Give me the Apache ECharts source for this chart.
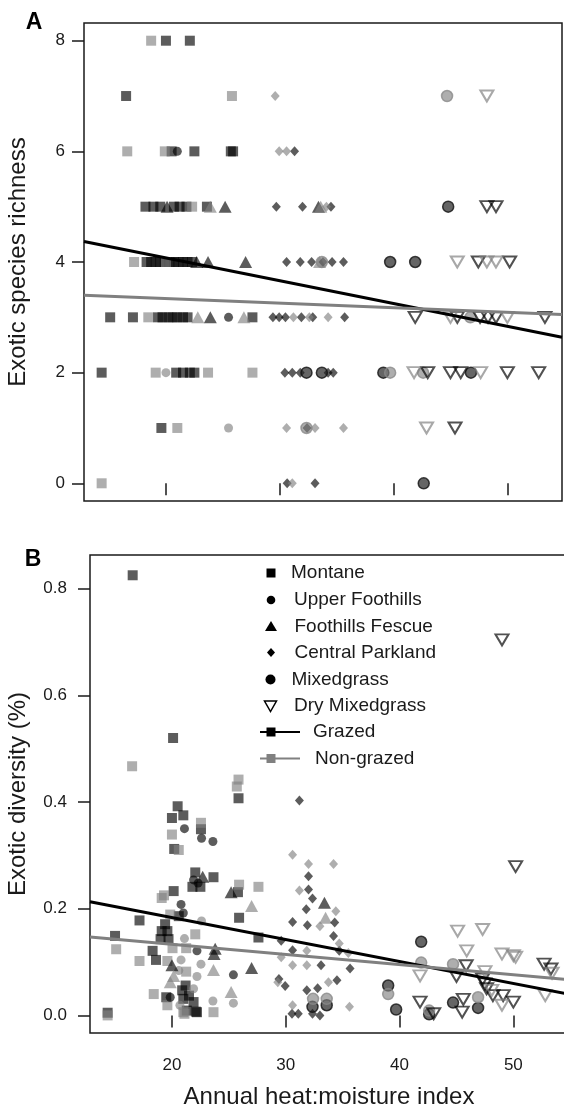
<!DOCTYPE html>
<html><head><meta charset="utf-8">
<script src="https://cdn.jsdelivr.net/npm/echarts@6/dist/echarts.min.js"></script>
<style>html,body{margin:0;padding:0;background:#fff}#c{width:564px;height:1110px}</style>
</head><body><div id="c"></div>
<script>
// ---------- DATA ----------
const xTicks = [20, 30, 40, 50];
const yTicksA = [0, 2, 4, 6, 8];
const yTicksB = [0, 0.2, 0.4, 0.6, 0.8];
const legendNames = ['Montane', 'Upper Foothills', 'Foothills Fescue', 'Central Parkland', 'Mixedgrass', 'Dry Mixedgrass', 'Grazed', 'Non-grazed'];

// Panel A: exotic species richness  [heat:moisture index, richness]
const richMontaneG = [[20.0,8],[22.1,8],[16.5,7],[20.5,6],[22.5,6],[25.7,6],[25.9,6],[18.2,5],[18.9,5],[19.5,5],[20.7,5],[21.2,5],[21.8,5],[23.6,5],[18.3,4],[18.7,4],[19.1,4],[19.5,4],[19.9,4],[20.3,4],[20.7,4],[21.1,4],[21.5,4],[21.9,4],[22.3,4],[15.1,3],[17.1,3],[19.3,3],[19.7,3],[20.2,3],[20.6,3],[21.0,3],[21.5,3],[21.9,3],[27.6,3],[14.35,2],[20.9,2],[21.5,2],[22.1,2],[22.5,2],[19.6,1]];
const richMontaneN = [[18.7,8],[25.8,7],[16.6,6],[19.9,6],[22.3,5],[17.2,4],[20.0,4],[18.45,3],[19.1,2],[23.7,2],[27.6,2],[21.0,1],[14.35,0]];
const richUpperG = [[21.0,6],[25.5,3]];
const richUpperN = [[20.0,2],[25.5,1]];
const richFescueG = [[20.1,5],[25.2,5],[33.4,5],[22.7,4],[23.7,4],[27.0,4],[23.9,3]];
const richFescueN = [[23.9,5],[33.6,5],[33.5,4],[22.8,3],[26.85,3]];
const richParkG = [[31.3,6],[29.7,5],[32.0,5],[34.5,5],[30.6,4],[31.8,4],[32.8,4],[33.8,4],[34.6,4],[35.6,4],[29.4,3],[29.95,3],[30.5,3],[31.9,3],[32.9,3],[35.7,3],[30.45,2],[31.1,2],[31.8,2],[34.25,2],[34.7,2],[32.4,1],[30.65,0],[33.1,0]];
const richParkN = [[29.6,7],[29.95,6],[30.6,6],[34.1,5],[31.2,3],[32.6,3],[34.25,3],[30.6,1],[33.1,1],[35.6,1],[31.1,0]];
const richMixedG = [[44.8,5],[39.7,4],[41.9,4],[32.35,2],[33.7,2],[39.1,2],[46.8,2],[42.65,0]];
const richMixedN = [[44.7,7],[33.7,4],[46.75,3],[39.7,2],[42.6,2],[32.35,1]];
const richDryG = [[48.2,5],[49.0,5],[47.45,4],[50.2,4],[41.9,3],[45.6,3],[47.6,3],[48.3,3],[49.0,3],[53.3,3],[43.0,2],[45.0,2],[45.9,2],[50.0,2],[52.75,2],[45.4,1]];
const richDryN = [[48.2,7],[45.6,4],[48.2,4],[49.0,4],[45.0,3],[50.0,3],[41.8,2],[47.65,2],[42.9,1]];
const richLineG = [[12.8,4.37],[54.8,2.64]];
const richLineN = [[12.8,3.40],[54.8,3.05]];

// Panel B: exotic diversity  [heat:moisture index, diversity]
const divMontaneG = [[16.55,0.825],[20.1,0.52],[25.85,0.407],[20.5,0.392],[21.0,0.375],[20.0,0.370],[22.55,0.349],[20.2,0.312],[22.05,0.268],[23.65,0.259],[21.8,0.241],[22.5,0.241],[25.8,0.231],[25.9,0.183],[27.6,0.146],[20.15,0.233],[20.6,0.186],[17.15,0.178],[15.0,0.149],[19.4,0.171],[19.1,0.158],[19.6,0.158],[19.0,0.143],[19.7,0.143],[18.3,0.121],[18.6,0.104],[19.5,0.034],[21.2,0.056],[20.9,0.047],[21.5,0.037],[21.0,0.031],[21.9,0.025],[21.3,0.009],[22.2,0.006],[14.35,0.005],[22.1,0.007]];
const divMontaneN = [[16.5,0.467],[25.85,0.442],[25.7,0.429],[22.55,0.361],[20.0,0.339],[20.6,0.310],[25.9,0.245],[27.6,0.241],[19.3,0.225],[19.1,0.220],[19.85,0.189],[15.1,0.124],[22.05,0.152],[20.05,0.126],[21.25,0.126],[17.15,0.102],[19.6,0.102],[21.25,0.082],[18.4,0.040],[19.6,0.019],[21.0,0.006],[23.65,0.006],[14.35,0.0],[21.1,0.003]];
const divUpperG = [[21.1,0.350],[22.6,0.332],[23.6,0.326],[21.9,0.254],[22.3,0.248],[20.8,0.208],[21.0,0.192],[22.2,0.121],[19.85,0.034],[25.4,0.076]];
const divUpperN = [[22.6,0.177],[21.1,0.144],[22.55,0.096],[20.8,0.104],[22.2,0.073],[20.6,0.084],[25.4,0.023],[20.7,0.019],[21.9,0.050],[23.6,0.027]];
const divFescueG = [[22.7,0.260],[25.2,0.231],[23.8,0.125],[23.7,0.115],[20.0,0.094],[27.0,0.089],[33.4,0.211]];
const divFescueN = [[27.0,0.205],[23.65,0.085],[25.2,0.044],[20.15,0.074],[19.85,0.062],[33.5,0.183]];
const divParkG = [[31.2,0.403],[32.0,0.261],[32.0,0.236],[32.35,0.219],[31.8,0.199],[30.6,0.175],[31.9,0.169],[34.3,0.174],[34.2,0.149],[34.7,0.121],[35.65,0.088],[33.1,0.094],[29.6,0.140],[30.6,0.122],[29.4,0.068],[29.95,0.055],[31.85,0.047],[32.8,0.051],[34.5,0.066],[30.55,0.003],[31.1,0.003],[32.35,0.003],[33.0,0.0]];
const divParkN = [[30.6,0.301],[32.0,0.284],[34.2,0.284],[31.2,0.234],[33.0,0.167],[34.4,0.195],[34.7,0.135],[35.5,0.117],[29.6,0.109],[30.6,0.094],[31.85,0.094],[31.85,0.121],[33.75,0.062],[30.6,0.019],[35.6,0.016],[29.3,0.062]];
const divMixedG = [[32.35,0.016],[33.6,0.019],[41.9,0.138],[39.0,0.056],[39.7,0.011],[42.6,0.002],[44.7,0.024],[46.9,0.014]];
const divMixedN = [[32.4,0.031],[33.6,0.031],[41.9,0.099],[44.7,0.096],[39.0,0.040],[42.6,0.009],[46.9,0.034]];
const divDryG = [[49.0,0.704],[50.2,0.279],[45.85,0.093],[45.0,0.073],[47.3,0.068],[47.5,0.059],[47.65,0.050],[48.2,0.037],[49.1,0.037],[50.0,0.025],[52.7,0.096],[53.3,0.087],[41.8,0.025],[43.0,0.003],[45.6,0.030],[45.5,0.006]];
const divDryN = [[45.1,0.158],[47.3,0.161],[45.9,0.121],[49.0,0.115],[50.0,0.112],[50.2,0.109],[41.8,0.074],[47.5,0.082],[48.1,0.047],[49.0,0.019],[53.4,0.079],[52.8,0.037]];
const divLineG = [[12.8,0.213],[54.8,0.040]];
const divLineN = [[12.8,0.147],[54.8,0.067]];

// ---------- STYLE ----------
const FONT = "'Liberation Sans', Arial, Helvetica, sans-serif";
const INK = '#1a1a1a';
const DARK = 'rgba(0,0,0,0.8)';
const GRAY = 'rgba(128,128,128,0.8)';
const SYM = {
  montane: {symbol: 'rect', size: 10},
  upper: {symbol: 'circle', size: 9},
  fescue: {symbol: 'triangle', size: [13, 12]},
  park: {symbol: 'diamond', size: [9, 10]},
  mixed: {symbol: 'circle', size: 11, border: true},
  dry: {symbol: 'triangle', size: [13, 11], rotate: 180, open: true}
};

function scatter(name, data, idx, st, grazed) {
  const s = {type: 'scatter', name: name, xAxisIndex: idx, yAxisIndex: idx, data: data,
    symbol: st.symbol, symbolSize: st.size, symbolRotate: st.rotate || 0, silent: true, z: 2,
    emphasis: {disabled: true}};
  if (st.open) s.itemStyle = {color: 'rgba(0,0,0,0)', borderColor: grazed ? 'rgba(0,0,0,0.85)' : 'rgba(128,128,128,0.85)', borderWidth: 2};
  else if (st.border) s.itemStyle = {color: grazed ? 'rgba(30,30,30,0.85)' : GRAY, borderColor: grazed ? '#111' : '#8a8a8a', borderWidth: 1.5};
  else s.itemStyle = {color: grazed ? DARK : GRAY};
  return s;
}
function regLine(name, data, idx, color) {
  return {type: 'line', name: name, xAxisIndex: idx, yAxisIndex: idx, data: data, showSymbol: false,
    symbol: 'none', silent: true, z: 5, lineStyle: {color: color, width: 3}, clip: true};
}

function xAx(idx, showLabels, name) {
  return {type: 'value', gridIndex: idx, min: 12.8, max: 54.8, splitLine: {show: false},
    axisLine: {show: false},
    axisTick: {show: true, length: 12, lineStyle: {color: INK, width: 1.5}, customValues: xTicks},
    axisLabel: {show: showLabels, customValues: xTicks, fontSize: 17, color: INK, fontFamily: FONT, margin: 24},
    name: name, nameLocation: 'middle', nameGap: 52,
    nameTextStyle: {fontSize: 24, color: INK, fontFamily: FONT}};
}
function yAx(idx, min, max, ticks, fmt, margin, name, gap) {
  return {type: 'value', gridIndex: idx, min: min, max: max, splitLine: {show: false},
    axisLine: {show: false},
    axisTick: {show: true, length: 12, lineStyle: {color: INK, width: 1.5}, customValues: ticks},
    axisLabel: {customValues: ticks, formatter: fmt, fontSize: 17, color: INK, fontFamily: FONT, margin: margin},
    name: name, nameLocation: 'middle', nameGap: gap,
    nameTextStyle: {fontSize: 24, color: INK, fontFamily: FONT}};
}

const series = [
  scatter('Montane grazed A', richMontaneG, 0, SYM.montane, true),
  scatter('Montane non-grazed A', richMontaneN, 0, SYM.montane, false),
  scatter('Upper Foothills grazed A', richUpperG, 0, SYM.upper, true),
  scatter('Upper Foothills non-grazed A', richUpperN, 0, SYM.upper, false),
  scatter('Foothills Fescue grazed A', richFescueG, 0, SYM.fescue, true),
  scatter('Foothills Fescue non-grazed A', richFescueN, 0, SYM.fescue, false),
  scatter('Central Parkland grazed A', richParkG, 0, SYM.park, true),
  scatter('Central Parkland non-grazed A', richParkN, 0, SYM.park, false),
  scatter('Mixedgrass grazed A', richMixedG, 0, SYM.mixed, true),
  scatter('Mixedgrass non-grazed A', richMixedN, 0, SYM.mixed, false),
  scatter('Dry Mixedgrass grazed A', richDryG, 0, SYM.dry, true),
  scatter('Dry Mixedgrass non-grazed A', richDryN, 0, SYM.dry, false),
  regLine('Grazed A', richLineG, 0, '#000'),
  regLine('Non-grazed A', richLineN, 0, '#808080'),
  scatter('Montane grazed B', divMontaneG, 1, SYM.montane, true),
  scatter('Montane non-grazed B', divMontaneN, 1, SYM.montane, false),
  scatter('Upper Foothills grazed B', divUpperG, 1, SYM.upper, true),
  scatter('Upper Foothills non-grazed B', divUpperN, 1, SYM.upper, false),
  scatter('Foothills Fescue grazed B', divFescueG, 1, SYM.fescue, true),
  scatter('Foothills Fescue non-grazed B', divFescueN, 1, SYM.fescue, false),
  scatter('Central Parkland grazed B', divParkG, 1, SYM.park, true),
  scatter('Central Parkland non-grazed B', divParkN, 1, SYM.park, false),
  scatter('Mixedgrass grazed B', divMixedG, 1, SYM.mixed, true),
  scatter('Mixedgrass non-grazed B', divMixedN, 1, SYM.mixed, false),
  scatter('Dry Mixedgrass grazed B', divDryG, 1, SYM.dry, true),
  scatter('Dry Mixedgrass non-grazed B', divDryN, 1, SYM.dry, false),
  regLine('Grazed B', divLineG, 1, '#000'),
  regLine('Non-grazed B', divLineN, 1, '#808080')
];

// ---------- LEGEND (panel B, drawn as graphics) ----------
const LX = 271;
const rowsY = [573, 600, 626.5, 652.5, 679.5, 706, 732, 758.5];
const textX = [291, 294, 294.5, 294.5, 291.5, 294, 313, 315];
const legend = [];
legend.push({type: 'rect', shape: {x: LX - 4.5, y: rowsY[0] - 4.5, width: 9, height: 9}, style: {fill: '#000'}});
legend.push({type: 'circle', shape: {cx: LX, cy: rowsY[1], r: 4.3}, style: {fill: '#000'}});
legend.push({type: 'polygon', shape: {points: [[LX - 6, rowsY[2] + 4.5], [LX + 6, rowsY[2] + 4.5], [LX, rowsY[2] - 5.5]]}, style: {fill: '#000'}});
legend.push({type: 'polygon', shape: {points: [[LX, rowsY[3] - 4.5], [LX + 4, rowsY[3]], [LX, rowsY[3] + 4.5], [LX - 4, rowsY[3]]]}, style: {fill: '#000'}});
legend.push({type: 'circle', shape: {cx: LX - 0.5, cy: rowsY[4], r: 5}, style: {fill: '#000'}});
legend.push({type: 'polygon', shape: {points: [[LX - 6.5, rowsY[5] - 5], [LX + 5.5, rowsY[5] - 5], [LX - 0.5, rowsY[5] + 5.5]]}, style: {fill: 'none', stroke: '#000', lineWidth: 1.5}});
legend.push({type: 'line', shape: {x1: 260, y1: rowsY[6], x2: 300, y2: rowsY[6]}, style: {stroke: '#000', lineWidth: 2}});
legend.push({type: 'rect', shape: {x: LX - 4.5, y: rowsY[6] - 4.5, width: 9, height: 9}, style: {fill: '#000'}});
legend.push({type: 'line', shape: {x1: 260, y1: rowsY[7], x2: 300, y2: rowsY[7]}, style: {stroke: '#808080', lineWidth: 2}});
legend.push({type: 'rect', shape: {x: LX - 4.5, y: rowsY[7] - 4.5, width: 9, height: 9}, style: {fill: '#808080'}});
legendNames.forEach(function (n, i) {
  legend.push({type: 'text', x: textX[i], y: rowsY[i], style: {text: n, fill: INK, font: '19px ' + FONT, textVerticalAlign: 'middle', textAlign: 'left'}});
});

const option = {
  backgroundColor: '#fff',
  animation: false,
  grid: [
    {left: 84, top: 23, width: 478, height: 478, show: true, borderColor: INK, borderWidth: 1.5, backgroundColor: 'transparent', containLabel: false, outerBoundsMode: 'none'},
    {left: 90, top: 555, width: 478, height: 478, show: true, borderColor: INK, borderWidth: 1.5, backgroundColor: 'transparent', containLabel: false, outerBoundsMode: 'none'}
  ],
  xAxis: [xAx(0, false, ''), xAx(1, true, 'Annual heat:moisture index')],
  yAxis: [
    yAx(0, -0.32, 8.32, yTicksA, function (v) { return String(v); }, 19, 'Exotic species richness', 54),
    yAx(1, -0.033, 0.863, yTicksB, function (v) { return v.toFixed(1); }, 23, 'Exotic diversity (%)', 60)
  ],
  series: series,
  graphic: [
    {type: 'text', x: 34, y: 23, style: {text: 'A', fill: '#000', font: 'bold 23px ' + FONT, textAlign: 'center', textVerticalAlign: 'middle'}},
    {type: 'text', x: 33, y: 560, style: {text: 'B', fill: '#000', font: 'bold 23px ' + FONT, textAlign: 'center', textVerticalAlign: 'middle'}}
  ].concat(legend)
};

const chart = echarts.init(document.getElementById('c'), null, {renderer: 'canvas'});
chart.setOption(option);
</script>
</body></html>
